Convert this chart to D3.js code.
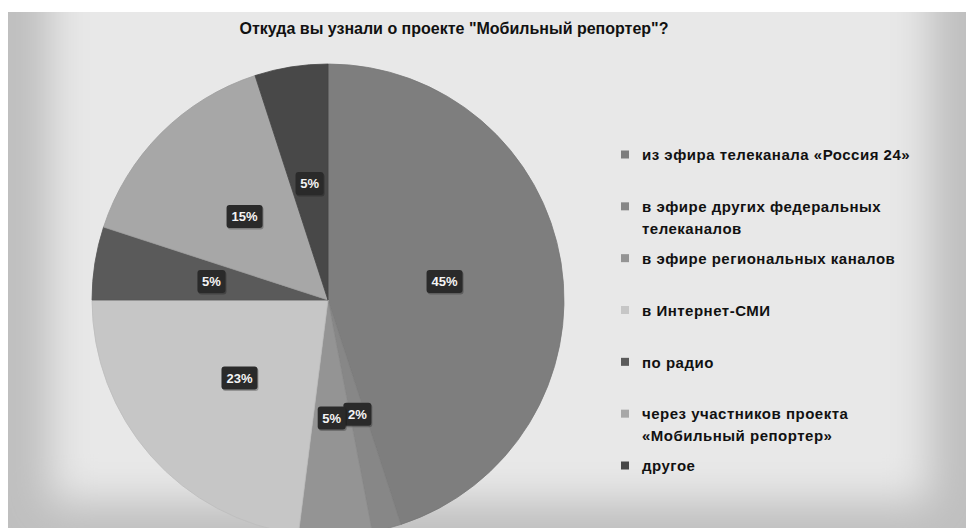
<!DOCTYPE html>
<html>
<head>
<meta charset="utf-8">
<script src="https://cdn.jsdelivr.net/npm/d3@7/dist/d3.min.js"></script>
<style>
  html, body { margin: 0; padding: 0; background: #ffffff; }
  svg { display: block; }
</style>
</head>
<body>
<svg id="chart" width="966" height="528"></svg>
<script>
// Survey: where respondents learned about the "Мобильный репортер" project
const titleText = 'Откуда вы узнали о проекте "Мобильный репортер"?';
const categories = [
  ["из эфира телеканала «Россия 24»"],
  ["в эфире других федеральных", "телеканалов"],
  ["в эфире региональных каналов"],
  ["в Интернет-СМИ"],
  ["по радио"],
  ["через участников проекта", "«Мобильный репортер»"],
  ["другое"]
];
const shares = [45, 2, 5, 23, 5, 15, 5];
const sliceColors = ["#7e7e7e", "#878787", "#949494", "#c6c6c6", "#5a5a5a", "#a7a7a7", "#484848"];

const W = 966, H = 528;
const svg = d3.select("#chart");
const defs = svg.append("defs");

// Chart area background: grey border fading into a light interior
const area = { x: 8, y: 12, w: W - 8, h: H - 12 };
defs.append("clipPath").attr("id", "areaClip")
  .append("rect").attr("x", area.x).attr("y", area.y).attr("width", area.w).attr("height", area.h);
defs.append("filter").attr("id", "soft").attr("x", "-20%").attr("y", "-20%").attr("width", "140%").attr("height", "140%")
  .append("feGaussianBlur").attr("stdDeviation", 20);

const bg = svg.append("g").attr("clip-path", "url(#areaClip)");
bg.append("rect").attr("x", area.x).attr("y", area.y).attr("width", area.w).attr("height", area.h)
  .attr("fill", "#bfbfbf");
bg.append("rect").attr("x", 50).attr("y", -40).attr("width", 880).attr("height", 542)
  .attr("fill", "#e8e8e8").attr("filter", "url(#soft)");

// Title
svg.append("text")
  .attr("x", 454).attr("y", 34)
  .attr("text-anchor", "middle")
  .attr("font-family", "'Liberation Sans', Arial, sans-serif")
  .attr("font-weight", "bold")
  .attr("font-size", 16)
  .attr("fill", "#111")
  .text(titleText);

// Pie
const cx = 328, cy = 300, R = 236;
const pie = d3.pie().sort(null).value(d => d)(shares);
const arc = d3.arc().innerRadius(0).outerRadius(R);
const labelArc = d3.arc().innerRadius(R / 2).outerRadius(R / 2);

const pieG = svg.append("g").attr("clip-path", "url(#areaClip)")
  .append("g").attr("transform", `translate(${cx},${cy})`);

pieG.selectAll("path.slice")
  .data(pie)
  .join("path")
  .attr("class", "slice")
  .attr("d", arc)
  .attr("fill", (d, i) => sliceColors[i])
  .attr("stroke", (d, i) => d3.color(sliceColors[i]).darker(0.15))
  .attr("stroke-width", 0.8);

// Value labels in dark rounded boxes
const labels = pieG.selectAll("g.lbl")
  .data(pie)
  .join("g")
  .attr("class", "lbl")
  .attr("transform", d => {
    const [x, y] = labelArc.centroid(d);
    return `translate(${x},${y})`;
  });

labels.each(function (d) {
  const g = d3.select(this);
  const txt = d.data + "%";
  const bw = txt.length === 3 ? 36 : 28;
  const bh = 23;
  g.append("rect")
    .attr("x", -bw / 2 + 1).attr("y", -bh / 2 + 1.5)
    .attr("width", bw).attr("height", bh)
    .attr("rx", 3)
    .attr("fill", "#000").attr("opacity", 0.25);
  g.append("rect")
    .attr("x", -bw / 2).attr("y", -bh / 2)
    .attr("width", bw).attr("height", bh)
    .attr("rx", 3)
    .attr("fill", "#2a2a2a");
  g.append("text")
    .attr("text-anchor", "middle")
    .attr("dy", "0.36em")
    .attr("font-family", "'Liberation Sans', Arial, sans-serif")
    .attr("font-weight", "bold")
    .attr("font-size", 13)
    .attr("fill", "#f4f4f4")
    .text(txt);
});

// Legend
const legendY = d3.scalePoint().domain(d3.range(categories.length)).range([155, 466]);
const legend = svg.append("g");
const items = legend.selectAll("g.item")
  .data(categories)
  .join("g")
  .attr("class", "item")
  .attr("transform", (d, i) => `translate(621,${legendY(i)})`);

items.append("rect")
  .attr("x", 0).attr("y", -4.5)
  .attr("width", 8).attr("height", 8)
  .attr("fill", (d, i) => sliceColors[i]);

items.append("text")
  .attr("x", 21)
  .attr("font-family", "'Liberation Sans', Arial, sans-serif")
  .attr("font-weight", "bold")
  .attr("font-size", 15)
  .attr("letter-spacing", 0.5)
  .attr("fill", "#111")
  .selectAll("tspan")
  .data(d => d)
  .join("tspan")
  .attr("x", 21)
  .attr("y", (d, j) => j * 22)
  .attr("dy", "0.35em")
  .text(d => d);
</script>
</body>
</html>
